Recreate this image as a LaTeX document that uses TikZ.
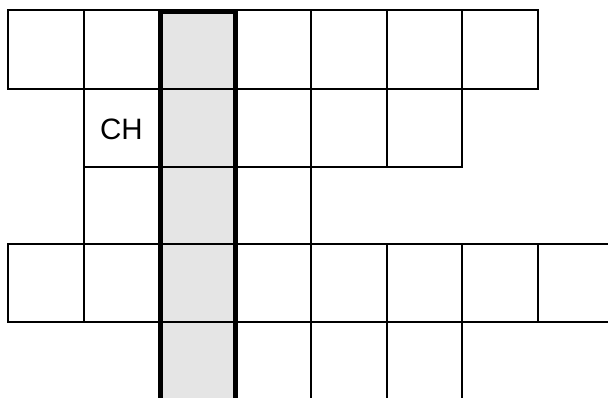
\documentclass[tikz,border=0pt]{standalone}
\usepackage{fontspec}
\setmainfont{Liberation Sans}
\tikzset{
  thinline/.style={line width=1.1pt, black, line cap=rect},
  thickline/.style={line width=4.8pt, black, line join=miter},
  shade/.style={fill=black!10, draw=none}
}
\begin{document}
\begin{tikzpicture}[x=1pt, y=-1pt]
\useasboundingbox (0,0) rectangle (608,398);
% gray column
\fill[shade] (160,11) rectangle (235,402);
% horizontal thin lines
\draw[thinline] (8,10) -- (538,10);
\draw[thinline] (8,89) -- (538,89);
\draw[thinline] (84,167) -- (462,167);
\draw[thinline] (8,244) -- (610,244);
\draw[thinline] (8,322) -- (610,322);
% vertical thin lines
\draw[thinline] (8,10) -- (8,89);
\draw[thinline] (8,244) -- (8,322);
\draw[thinline] (84,10) -- (84,322);
\draw[thinline] (311,10) -- (311,400);
\draw[thinline] (387,10) -- (387,167);
\draw[thinline] (387,244) -- (387,400);
\draw[thinline] (462,10) -- (462,167);
\draw[thinline] (462,244) -- (462,400);
\draw[thinline] (538,10) -- (538,89);
\draw[thinline] (538,244) -- (538,322);
% thick frame of the column
\draw[thickline] (160.3,402) -- (160.3,11.2) -- (235.3,11.2) -- (235.3,402);
% label
\node[inner sep=0pt, font=\fontsize{29.5}{32}\selectfont] (ch) at (121.5,129) {CH};
\end{tikzpicture}
\end{document}
